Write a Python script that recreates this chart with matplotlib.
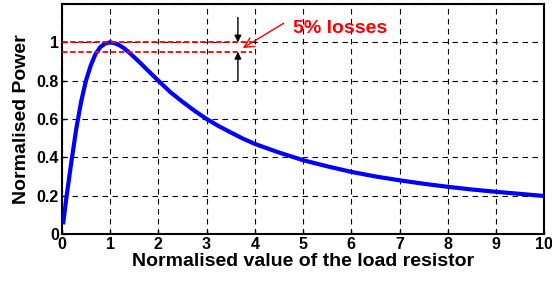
import matplotlib
matplotlib.use("Agg")
import matplotlib.pyplot as plt

# values
r = [0.025, 0.1, 0.2, 0.3, 0.4, 0.5, 0.6, 0.7, 0.8, 0.9, 1.0, 1.1, 1.2, 1.3, 1.4, 1.6,
     1.8, 2.0, 2.25, 2.5, 2.75, 3.0, 3.25, 3.5, 3.75, 4.0, 4.5, 5.0, 5.5, 6.0, 6.5,
     7.0, 7.5, 8.0, 8.5, 9.0, 9.5, 10.0]
power = [0.05, 0.2, 0.38, 0.55, 0.69, 0.8, 0.88, 0.94, 0.976, 0.994, 1.0, 0.995, 0.984,
         0.967, 0.946, 0.899, 0.849, 0.8, 0.74, 0.69, 0.643, 0.6, 0.563, 0.53, 0.498,
         0.47, 0.425, 0.385, 0.353, 0.324, 0.3, 0.28, 0.262, 0.246, 0.232, 0.22, 0.209,
         0.198]
max_level = 1.0
loss_level = 0.95
xticks = list(range(0, 11))
yticks = [0, 0.2, 0.4, 0.6, 0.8, 1]
ytick_labels = ['0', '0.2', '0.4', '0.6', '0.8', '1']

plt.rcParams['font.family'] = ['Liberation Sans', 'DejaVu Sans']
plt.rcParams['font.weight'] = 'bold'

fig = plt.figure(figsize=(5.52, 2.86), dpi=100)
ax = fig.add_axes([0.112, 0.182, 0.874, 0.804])

ax.plot(r, power, color='#0000ff', lw=3, zorder=3, solid_capstyle='butt')

# 5% band
ax.plot([0, 3.95], [max_level, max_level], color='red', lw=1.3, ls=(0, (3, 1.5)), zorder=4)
ax.plot([0, 3.95], [loss_level, loss_level], color='red', lw=1.3, ls=(0, (3, 1.5)), zorder=4)

# vertical double arrow
arr = dict(arrowstyle='-|>', color='black', lw=1, mutation_scale=10, shrinkA=0, shrinkB=0)
ax.annotate('', xy=(3.65, loss_level), xytext=(3.65, 0.8), arrowprops=arr)
ax.annotate('', xy=(3.65, max_level), xytext=(3.65, 1.13), arrowprops=arr)

# pointer to the band
ax.annotate('', xy=(3.75, 0.97), xytext=(4.6, 1.1),
            arrowprops=dict(arrowstyle='->,head_length=0.5,head_width=0.25', color='red',
                            lw=1, mutation_scale=14, shrinkA=0, shrinkB=0), zorder=5)
ax.text(4.8, 1.07, '5% losses', color='red', fontsize=14, fontweight='bold', va='center')

ax.set_xlim(0, 10)
ax.set_ylim(0, 1.2)
ax.set_xticks(xticks)
ax.set_yticks(yticks)
ax.set_yticklabels(ytick_labels)
ax.tick_params(labelsize=11.5, direction='in', length=3, width=1, pad=2)
ax.grid(True, color='black', lw=0.8, ls=(0, (5, 4)))
ax.axhline(1.2, color='black', lw=0.8, ls=(0, (5, 4)))
for s in ax.spines.values():
    s.set_linewidth(1.5)

ax.set_xlabel('Normalised value of the load resistor', fontsize=14, fontweight='bold', labelpad=1)
ax.set_ylabel('Normalised Power', fontsize=14, fontweight='bold', labelpad=5)

fig.savefig('out.png', dpi=100)
